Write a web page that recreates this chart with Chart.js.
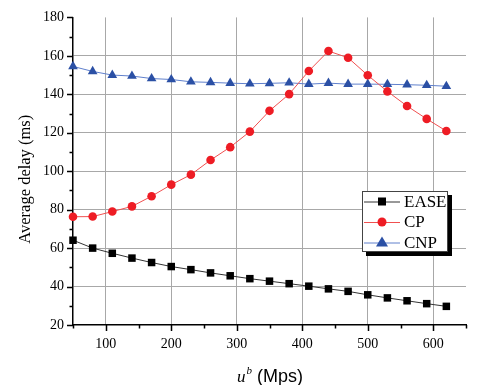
<!DOCTYPE html>
<html>
<head>
<meta charset="utf-8">
<script src="https://cdn.jsdelivr.net/npm/chart.js@4.4.0/dist/chart.umd.min.js"></script>
<style>
html,body{margin:0;padding:0;background:#fff;}
#wrap{position:relative;width:489px;height:385px;}
</style>
</head>
<body>
<div id="wrap"><canvas id="c" width="489" height="385"></canvas></div>
<script>
const bandwidth = [50,80,110,140,170,200,230,260,290,320,350,380,410,440,470,500,530,560,590,620];
const easeDelay = [64.1,60.0,57.3,54.8,52.5,50.4,48.8,47.1,45.6,44.1,42.8,41.5,40.2,38.8,37.5,35.7,34.1,32.6,31.1,29.7];
const cpDelay   = [76.3,76.4,79.0,81.7,87.0,93.0,98.2,105.8,112.5,120.6,131.4,140.1,152.1,162.5,159.0,149.9,141.5,133.9,127.2,120.9];
const cnpDelay  = [154.5,151.9,150.0,149.5,148.2,147.7,146.5,146.2,145.8,145.5,145.7,146.0,145.3,145.8,145.3,145.3,145.2,145.0,144.7,144.2];
const seriesNames = ['EASE','CP','CNP'];
const xTickLabels = [100,200,300,400,500,600];
const yTickLabels = [20,40,60,80,100,120,140,160,180];

const SERIF = '"Liberation Serif", "Times New Roman", serif';
const SANS = '"Liberation Sans", Arial, sans-serif';
const GRID = '#a8a8a8';

function pts(ys){ return bandwidth.map((x,i)=>({x:x,y:ys[i]})); }

const datasets = [
  {label:seriesNames[0], data:pts(easeDelay), borderColor:'#333333', backgroundColor:'#000000', pointBackgroundColor:'#000000', pointBorderColor:'#000000', pointStyle:'rect', pointRadius:5.3, borderWidth:1, pointBorderWidth:0},
  {label:seriesNames[1], data:pts(cpDelay), borderColor:'#f05050', backgroundColor:'#ee1c24', pointBackgroundColor:'#ee1c24', pointBorderColor:'#ee1c24', pointStyle:'circle', pointRadius:4.3, borderWidth:1, pointBorderWidth:0},
  {label:seriesNames[2], data:pts(cnpDelay), borderColor:'#6080cc', backgroundColor:'#2b50a5', pointBackgroundColor:'#2b50a5', pointBorderColor:'#2b50a5', pointStyle:'triangle', pointRadius:5.6, borderWidth:1, pointBorderWidth:0}
];
datasets.forEach(d=>{ d.clip = false; d.tension = 0; d.fill = false; });

const decor = {
  id:'decor',
  afterDraw(chart){
    const ctx = chart.ctx;
    const xs = chart.scales.x, ys = chart.scales.y;
    const area = chart.chartArea;
    ctx.save();
    // ticks
    ctx.strokeStyle = '#000';
    ctx.lineWidth = 1.5;
    ctx.beginPath();
    for (let v = 20; v <= 180; v += 10) {
      const y = Math.round(ys.getPixelForValue(v)) + 0.5;
      const len = yTickLabels.includes(v) ? 6 : 3.5;
      ctx.moveTo(area.left - len, y);
      ctx.lineTo(area.left, y);
    }
    for (let v = 50; v <= 650; v += 50) {
      const x = Math.round(xs.getPixelForValue(v)) + 0.5;
      const len = xTickLabels.includes(v) ? 6 : 3.5;
      ctx.moveTo(x, area.bottom);
      ctx.lineTo(x, area.bottom + len);
    }
    ctx.stroke();

    // y title
    ctx.fillStyle = '#000';
    ctx.save();
    ctx.translate(26, (area.top + area.bottom) / 2 + 8);
    ctx.rotate(-Math.PI / 2);
    ctx.font = '16.5px ' + SERIF;
    ctx.textAlign = 'center';
    ctx.textBaseline = 'middle';
    ctx.fillText('Average delay (ms)', 0, 0);
    ctx.restore();

    // x title: u^b (Mps)
    const baseY = 382;
    ctx.textBaseline = 'alphabetic';
    ctx.textAlign = 'left';
    let xPos = 237;
    ctx.font = 'italic 17px ' + SERIF;
    ctx.fillText('u', xPos, baseY);
    xPos += ctx.measureText('u').width + 1;
    ctx.font = 'italic 11px ' + SERIF;
    ctx.fillText('b', xPos, baseY - 8);
    xPos += ctx.measureText('b').width + 5;
    ctx.font = '18px ' + SANS;
    ctx.fillText('(Mps)', xPos, baseY);

    // legend
    const bx = 362, by = 191, bw = 86, bh = 61, sh = 4;
    ctx.fillStyle = '#000';
    ctx.fillRect(bx + sh, by + sh, bw, bh);
    ctx.fillStyle = '#fff';
    ctx.fillRect(bx, by, bw, bh);
    ctx.strokeStyle = '#444';
    ctx.lineWidth = 1;
    ctx.strokeRect(bx + 0.5, by + 0.5, bw - 1, bh - 1);
    const rows = [201.5, 222, 242.5];
    chart.data.datasets.forEach((ds, i) => {
      const y = rows[i];
      ctx.strokeStyle = ds.borderColor;
      ctx.lineWidth = 1;
      ctx.beginPath();
      ctx.moveTo(364, y + 0.5);
      ctx.lineTo(400, y + 0.5);
      ctx.stroke();
      ctx.fillStyle = ds.pointBackgroundColor;
      ctx.beginPath();
      if (ds.pointStyle === 'rect') {
        ctx.fillRect(382 - 4, y - 4, 8, 8);
      } else if (ds.pointStyle === 'circle') {
        ctx.arc(382, y, 4.5, 0, Math.PI * 2);
        ctx.fill();
      } else {
        ctx.moveTo(382, y - 6);
        ctx.lineTo(388, y + 4);
        ctx.lineTo(376, y + 4);
        ctx.closePath();
        ctx.fill();
      }
      ctx.fillStyle = '#000';
      ctx.font = '17px ' + SERIF;
      ctx.textAlign = 'left';
      ctx.textBaseline = 'middle';
      ctx.fillText(ds.label, 404, y + 1);
    });
    ctx.restore();
  }
};

new Chart(document.getElementById('c'), {
  type: 'line',
  data: { datasets: datasets },
  options: {
    responsive: false,
    animation: false,
    events: [],
    layout: { padding: { left: 0, top: 8, right: 23, bottom: 0 } },
    plugins: { legend: { display: false }, tooltip: { enabled: false } },
    scales: {
      x: {
        type: 'linear', min: 50, max: 650,
        afterFit(s){ s.height = 60; },
        border: { color: '#000', width: 1.5 },
        grid: { drawTicks: false, lineWidth: 1, color: ctx => (ctx.tick && xTickLabels.includes(ctx.tick.value)) ? GRID : 'rgba(0,0,0,0)' },
        ticks: { stepSize: 50, padding: 11, color: '#000', font: { family: SERIF, size: 14 }, maxRotation: 0, autoSkip: false,
                 callback: v => xTickLabels.includes(v) ? String(v) : '' }
      },
      y: {
        type: 'linear', min: 20, max: 180,
        afterFit(s){ s.width = 73; },
        border: { color: '#000', width: 1.5 },
        grid: { drawTicks: false, lineWidth: 1, color: ctx => (ctx.tick && yTickLabels.includes(ctx.tick.value) && ctx.tick.value !== 180 && ctx.tick.value !== 20) ? GRID : 'rgba(0,0,0,0)' },
        ticks: { stepSize: 10, padding: 9, color: '#000', font: { family: SERIF, size: 14 }, autoSkip: false,
                 callback: v => yTickLabels.includes(v) ? String(v) : '' }
      }
    }
  },
  plugins: [decor]
});
</script>
</body>
</html>
